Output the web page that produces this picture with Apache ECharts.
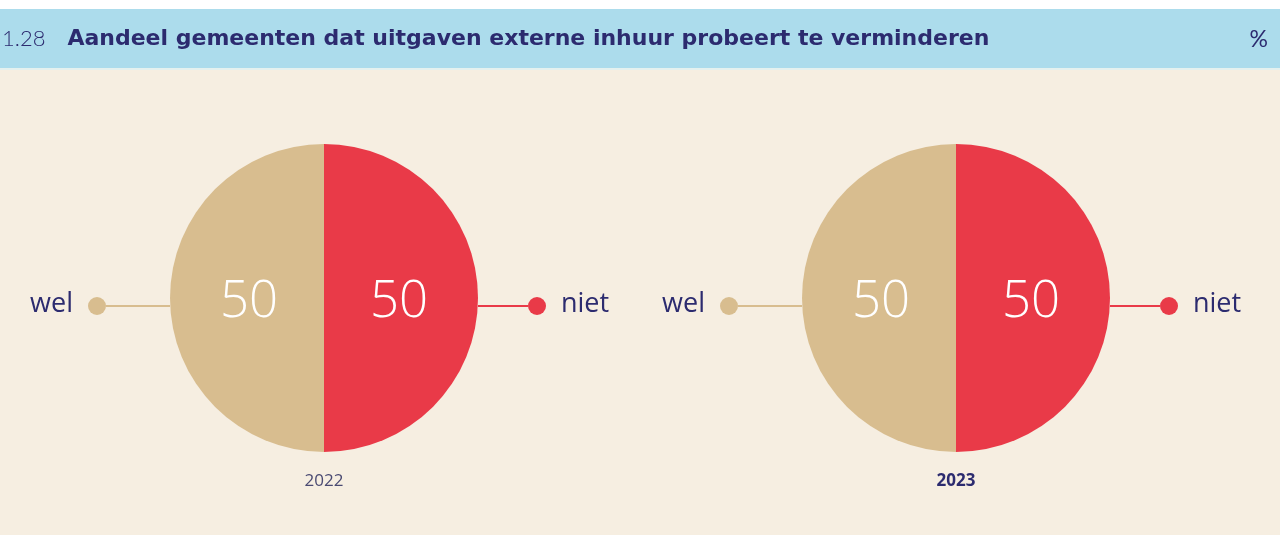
<!DOCTYPE html>
<html>
<head>
<meta charset="utf-8">
<script src="https://cdn.jsdelivr.net/npm/echarts@6/dist/echarts.min.js"></script>
<style>
    html, body { margin: 0; padding: 0; background: #fff; }
    #chart { width: 1280px; height: 535px; }
</style>
</head>
<body>
<div id="chart"></div>
<script>
// data
var years = ['2022', '2023'];
var categories = ['niet', 'wel'];
var nietValues = [50, 50];
var welValues = [50, 50];

var colors = { niet: '#e93a48', wel: '#d8bd8f' };
var navy = '#2c2b6f';
var centersX = [324, 956]; // pie centres in px
var centerY = 298;
var lineOffset = 8; // connector lines sit a bit below the centre
var radius = 154;

var chart = echarts.init(document.getElementById('chart'));

function sliceData(i) {
    var vals = { niet: nietValues[i], wel: welValues[i] };
    return categories.map(function(name) {
        return { name: name, value: vals[name], itemStyle: { color: colors[name] } };
    });
}

function outsideData(i) {
    return sliceData(i).map(function(d) {
        var left = d.name === 'wel';
        return {
            name: d.name,
            value: d.value,
            itemStyle: { color: 'rgba(0,0,0,0)' },
            labelLine: {
                length: left ? 64 : 50,
                lineStyle: { color: colors[d.name], width: 2 }
            },
            label: {
                formatter: left ? '{txt|{b}}{dot| }' : '{dot| }{txt|{b}}',
                rich: {
                    dot: { width: 18, height: 18, borderRadius: 9, backgroundColor: colors[d.name] },
                    txt: {
                        color: navy, fontSize: 27, fontFamily: 'Open Sans', fontWeight: 400,
                        padding: left ? [0, 15, 4, 0] : [0, 0, 4, 15]
                    }
                }
            }
        };
    });
}

var series = [];
var graphics = [
    { type: 'rect', left: 0, top: 0, shape: { width: 1280, height: 535 }, style: { fill: '#f6eee1' }, z: -10 },
    { type: 'rect', left: 0, top: 0, shape: { width: 1280, height: 9 }, style: { fill: '#ffffff' }, z: -9 },
    { type: 'rect', left: 0, top: 9, shape: { width: 1280, height: 59 }, style: { fill: '#acdcec' }, z: -9 },
    { type: 'rect', left: 0, top: 68, shape: { width: 1280, height: 2 }, style: { fill: '#e4f1ef' }, z: -9 }
];

years.forEach(function(year, i) {
    series.push({
        type: 'pie',
        radius: radius,
        center: [centersX[i], centerY],
        startAngle: 90,
        clockwise: true,
        silent: true,
        animation: false,
        emphasis: { disabled: true },
        label: {
            position: 'inside',
            formatter: '{c}',
            color: '#ffffff',
            fontSize: 51,
            fontFamily: 'Open Sans',
            fontWeight: 300
        },
        labelLayout: function(params) {
            return { dx: params.dataIndex === 0 ? -5 : 5, dy: 4 };
        },
        labelLine: { show: false },
        data: sliceData(i)
    });
    // transparent copy only carries the wel / niet callouts
    series.push({
        type: 'pie',
        radius: radius,
        center: [centersX[i], centerY + lineOffset],
        startAngle: 90,
        clockwise: true,
        silent: true,
        animation: false,
        emphasis: { disabled: true },
        label: { position: 'outside', distanceToLabelLine: 0, alignTo: 'none' },
        labelLine: { show: true, length2: 0, smooth: false },
        data: outsideData(i)
    });
    graphics.push({
        type: 'text',
        x: centersX[i],
        y: 481,
        style: {
            text: year,
            textAlign: 'center',
            textVerticalAlign: 'middle',
            fill: i === 1 ? navy : '#4a4a72',
            font: (i === 1 ? 'bold ' : '') + '17px "Open Sans"'
        }
    });
});

chart.setOption({
    animation: false,
    title: [{
        left: 2,
        top: 28,
        padding: 0,
        text: '{num|1.28}  {b|Aandeel gemeenten dat uitgaven externe inhuur probeert te verminderen}',
        textStyle: {
            rich: {
                num: { fontSize: 22, fontFamily: 'Lato', fontWeight: 300, color: navy },
                b: { fontSize: 22, fontFamily: 'DejaVu Sans', fontWeight: 'bold', color: navy, padding: [0, 0, 0, 12] }
            }
        }
    }, {
        right: 12,
        top: 28,
        padding: 0,
        text: '%',
        textStyle: { fontSize: 23, fontFamily: 'Lato', fontWeight: 400, color: navy }
    }],
    graphic: graphics,
    series: series
});
</script>
</body>
</html>
